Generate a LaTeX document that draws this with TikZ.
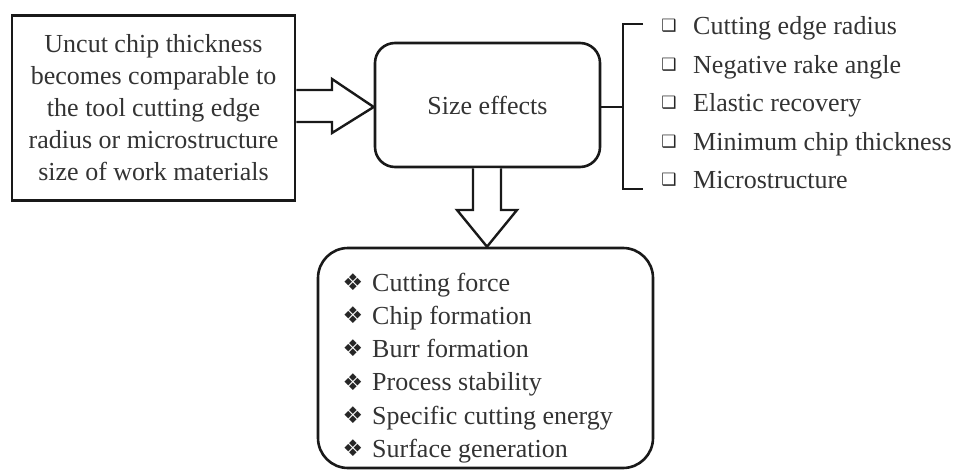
\documentclass[tikz,border=0pt]{standalone}
\usepackage{fontspec}
\setmainfont{Liberation Serif}
\newfontfamily\symfont{DejaVu Sans}
\usetikzlibrary{calc}

\begin{document}
\begin{tikzpicture}[x=1pt,y=-1pt,
  txt/.style={text=black!80, font=\fontsize{26}{32}\selectfont},
  frame/.style={draw=black!90, line width=2.6pt},
  blockarrow/.style={draw=black!90, line width=2.4pt, fill=white, line join=miter},
  bracket/.style={draw=black!90, line width=2.4pt},
  item/.style={txt, anchor=base west, inner sep=0pt},
  sqmark/.style={text=black!85, font=\symfont\fontsize{17}{17}\selectfont, inner sep=0pt},
  dmmark/.style={text=black!85, font=\symfont\fontsize{23}{23}\selectfont, inner sep=0pt}
]
\useasboundingbox (0,0) rectangle (960,473);

% cause box
\node[frame, txt, minimum width=283pt, minimum height=185pt, inner sep=0pt, align=center]
  (src) at (153.5,108)
  {Uncut chip thickness\\becomes comparable to\\the tool cutting edge\\radius or microstructure\\size of work materials};

% central box
\node[frame, txt, rounded corners=20pt, minimum width=225pt, minimum height=124pt]
  (size) at (487.5,105) {Size effects};

% consequences box
\node[frame, rounded corners=30pt, minimum width=335pt, minimum height=220pt]
  (out) at (485.5,358) {};

% hollow arrow from cause to size effects
\coordinate (tipR) at (size.west |- 0,107);
\draw[blockarrow]
  (src.east |- 0,90) -- (332,90) -- (332,79) -- (tipR)
  -- (332,133) -- (332,122) -- (src.east |- 0,122);

% hollow arrow from size effects down to consequences
\coordinate (tipD) at (487,0 |- out.north);
\draw[blockarrow]
  (473,0 |- size.south) -- (473,210) -- (457,210) -- (tipD)
  -- (517,210) -- (501,210) -- (501,0 |- size.south);

% bracket listing the causes of size effects
\coordinate (bmid) at (623,107);
\coordinate (btop) at (623,24);
\coordinate (bbot) at (623,189);
\draw[bracket] (size.east |- bmid) -- (bmid);
\draw[bracket] ($(btop)+(20,0)$) -- (btop) -- (bbot) -- ($(bbot)+(20,0)$);

\foreach \t [count=\i] in {Cutting edge radius,Negative rake angle,Elastic recovery,Minimum chip thickness,Microstructure}{
  \pgfmathsetmacro\yy{26+38.5*(\i-1)}
  \node[sqmark] (sq\i) at (669,\yy) {❑};
  \node[item] (c\i) at (693,\yy+9) {\t};
}

% affected quantities
\foreach \t [count=\i] in {Cutting force,Chip formation,Burr formation,Process stability,Specific cutting energy,Surface generation}{
  \pgfmathsetmacro\yy{282+33.3*(\i-1)}
  \node[dmmark] (dm\i) at (353,\yy) {❖};
  \node[item] (e\i) at (372,\yy+9) {\t};
}
\end{tikzpicture}
\end{document}
